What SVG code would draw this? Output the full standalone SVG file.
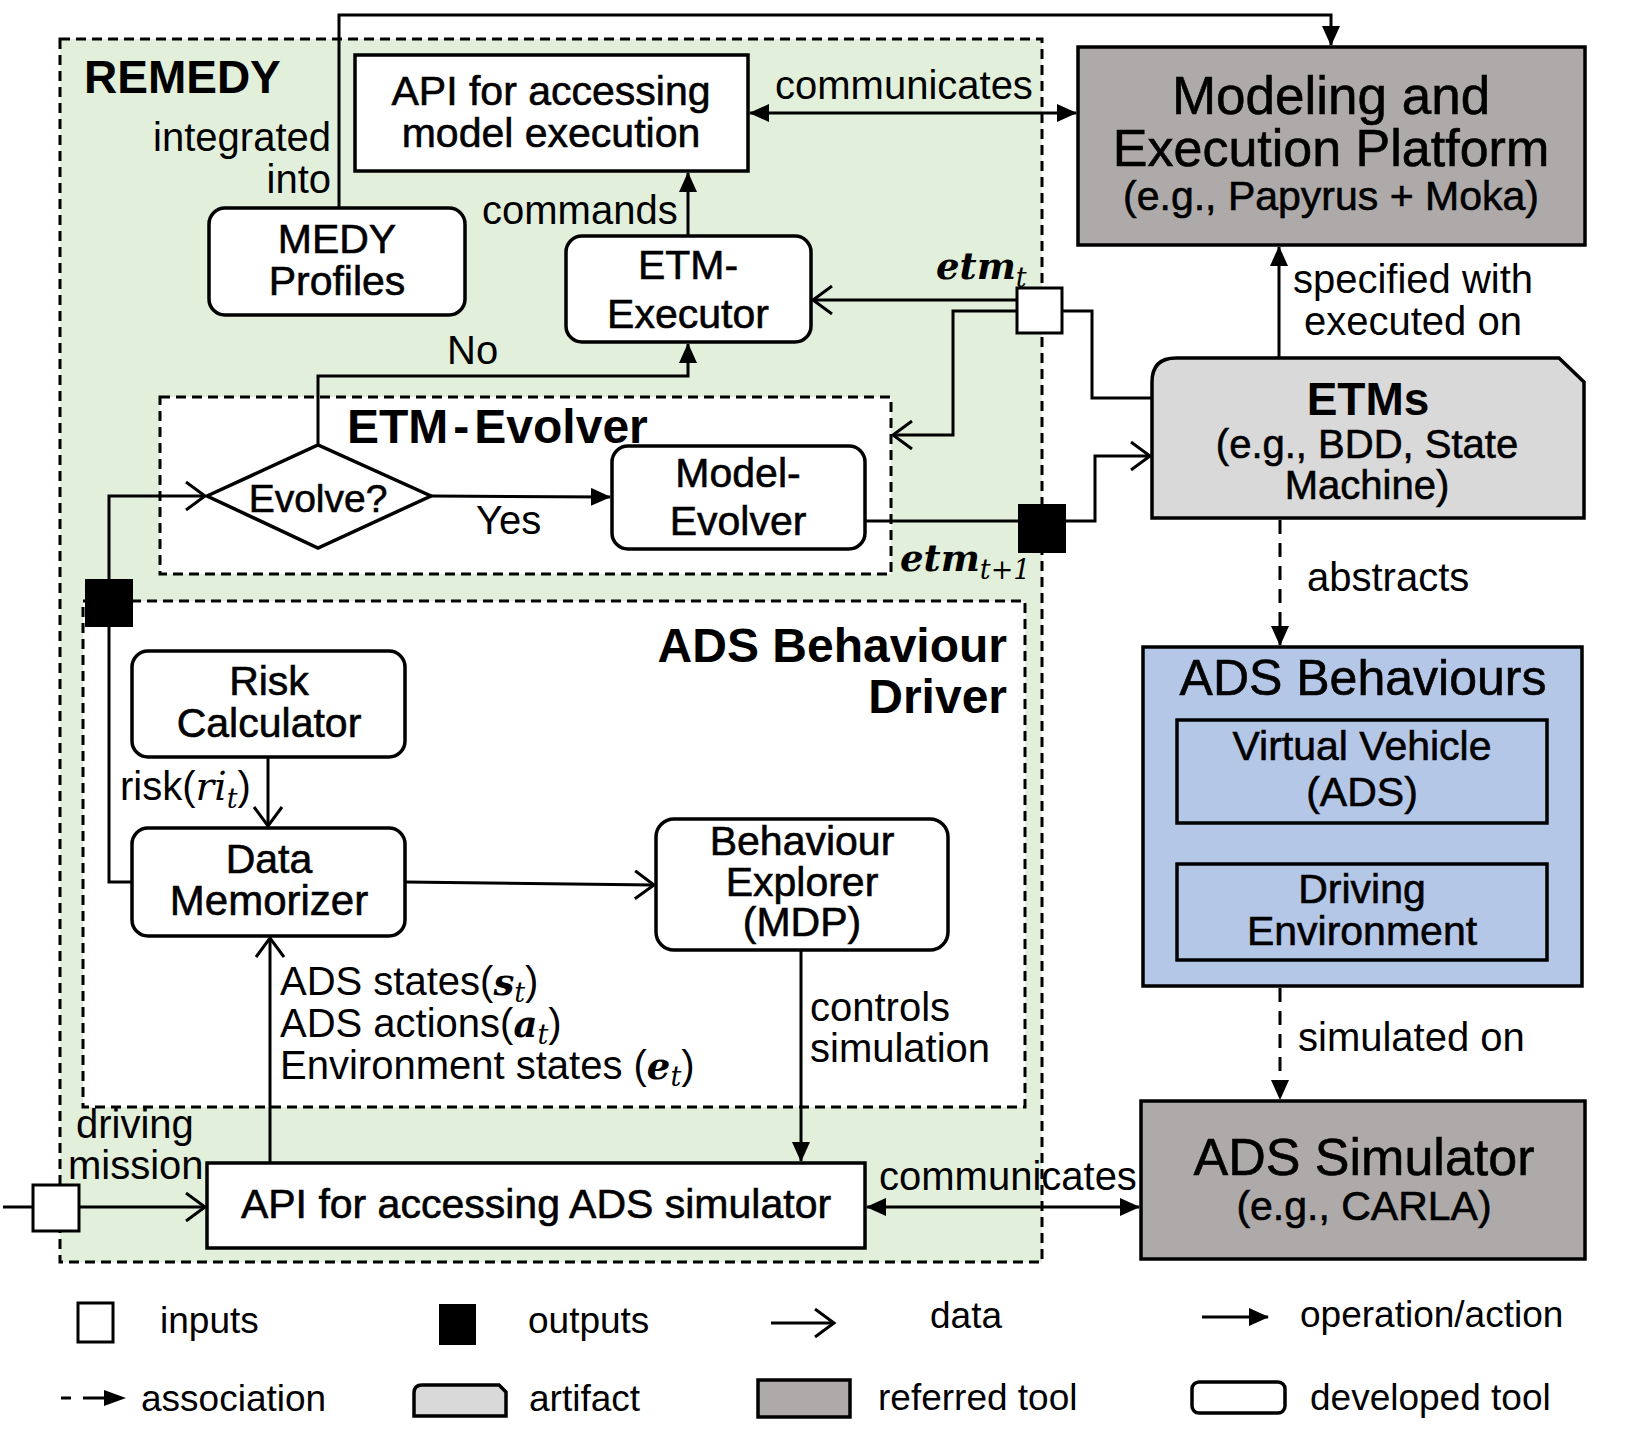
<svg xmlns="http://www.w3.org/2000/svg" width="1629" height="1437" viewBox="0 0 1629 1437">
<defs>
<style>
text{font-family:"Liberation Sans",Arial,sans-serif;font-size:40px;fill:#000}
.c{text-anchor:middle}
.e{text-anchor:end}
.n{font-size:41px;stroke:#000;stroke-width:0.6px}
.b{font-weight:bold;font-size:48px}
.big{font-size:52px;stroke:#000;stroke-width:0.6px}
.lg{font-size:37px}
.m{font-family:"DejaVu Serif",serif;font-style:italic;font-weight:bold;font-size:37px;stroke:none}
.mi{font-family:"DejaVu Serif",serif;font-style:italic;font-size:39px}
.sub{font-family:"DejaVu Serif",serif;font-style:italic;font-weight:normal;font-size:27px;stroke:none}
.box{fill:#fff;stroke:#000;stroke-width:3.5}
.ref{fill:#aeaaaa;stroke:#000;stroke-width:3.5}
.art{fill:#d9d9d9;stroke:#000;stroke-width:3.5}
.blue{fill:#b4c7e7;stroke:#000;stroke-width:3.5}
.dash{fill:#fff;stroke:#000;stroke-width:3;stroke-dasharray:10 6}
.ln{fill:none;stroke:#000;stroke-width:3}
.dl{fill:none;stroke:#000;stroke-width:3;stroke-dasharray:14 9}
.fa{marker-end:url(#fa)}
.oa{marker-end:url(#oa)}
</style>
<marker id="fa" viewBox="0 0 20 18" refX="19" refY="9" markerWidth="20" markerHeight="18" orient="auto-start-reverse" markerUnits="userSpaceOnUse"><path d="M0,0 L20,9 L0,18 z" fill="#000"/></marker>
<marker id="oa" viewBox="0 0 24 30" refX="21" refY="15" markerWidth="24" markerHeight="30" orient="auto" markerUnits="userSpaceOnUse"><path d="M2,1 L21,15 L2,29" fill="none" stroke="#000" stroke-width="3"/></marker>
</defs>
<rect width="1629" height="1437" fill="#fff"/>

<g id="remedy">
<rect x="60" y="39" width="982" height="1223" fill="#e2efda" stroke="#000" stroke-width="3" stroke-dasharray="10 6"/>
<text class="b" x="84" y="93" style="font-size:46px">REMEDY</text>
</g>

<g id="etm-evolver">
<rect class="dash" x="160" y="397" width="731" height="177"/>
<text class="b" x="347" y="443">ETM<tspan dx="5">-</tspan><tspan dx="5">Evolver</tspan></text>
</g>

<g id="ads-behaviour-driver">
<rect class="dash" x="83" y="601" width="942" height="506"/>
<text class="b e" x="1007" y="662">ADS Behaviour</text>
<text class="b e" x="1007" y="713">Driver</text>
</g>

<g id="api-model">
<rect class="box" x="355" y="55" width="393" height="116"/>
<text class="c n" x="551" y="105">API for accessing</text>
<text class="c n" x="551" y="147">model execution</text>
</g>

<g id="medy-profiles">
<rect class="box" x="209" y="208" width="256" height="107" rx="16"/>
<text class="c n" x="337" y="253">MEDY</text>
<text class="c n" x="337" y="295">Profiles</text>
</g>

<g id="etm-executor">
<rect class="box" x="566" y="236" width="245" height="106" rx="16"/>
<text class="c n" x="688" y="279">ETM-</text>
<text class="c n" x="688" y="328">Executor</text>
</g>

<g id="evolve-decision">
<polygon points="207,496 318,445 431,496 318,548" fill="#fff" stroke="#000" stroke-width="3.5"/>
<text class="c n" x="318" y="512" style="font-size:39px">Evolve?</text>
</g>

<g id="model-evolver">
<rect class="box" x="612" y="446" width="253" height="103" rx="16"/>
<text class="c n" x="738" y="487">Model-</text>
<text class="c n" x="738" y="535">Evolver</text>
</g>

<g id="risk-calculator">
<rect class="box" x="132" y="651" width="273" height="106" rx="16"/>
<text class="c n" x="269" y="695">Risk</text>
<text class="c n" x="269" y="737">Calculator</text>
</g>

<g id="data-memorizer">
<rect class="box" x="132" y="828" width="273" height="108" rx="16"/>
<text class="c n" x="269" y="873">Data</text>
<text class="c n" x="269" y="915" style="font-size:42px">Memorizer</text>
</g>

<g id="behaviour-explorer">
<rect class="box" x="656" y="819" width="292" height="131" rx="18"/>
<text class="c n" x="802" y="855">Behaviour</text>
<text class="c n" x="802" y="896">Explorer</text>
<text class="c n" x="802" y="936">(MDP)</text>
</g>

<g id="api-ads">
<rect class="box" x="207" y="1163" width="658" height="85"/>
<text class="c n" x="536" y="1218">API for accessing ADS simulator</text>
</g>

<g id="modeling-platform">
<rect class="ref" x="1078" y="47" width="507" height="198"/>
<text class="c big" x="1331" y="114" style="font-size:53px">Modeling and</text>
<text class="c big" x="1331" y="166">Execution Platform</text>
<text class="c n" x="1331" y="210">(e.g., Papyrus + Moka)</text>
</g>

<g id="etms">
<path class="art" d="M1152,518 L1152,382 Q1152,358 1176,358 L1559,358 L1584,382 L1584,518 Z"/>
<text class="c b" x="1368" y="415" style="font-size:46px">ETMs</text>
<text class="c n" x="1367" y="458" style="font-size:40px">(e.g., BDD, State</text>
<text class="c n" x="1367" y="499" style="font-size:40px">Machine)</text>
</g>

<g id="ads-behaviours">
<rect class="blue" x="1143" y="647" width="439" height="339"/>
<text class="c big" x="1363" y="695" style="font-size:50px">ADS Behaviours</text>
</g>

<g id="virtual-vehicle">
<rect class="blue" x="1177" y="720" width="370" height="103"/>
<text class="c n" x="1362" y="760">Virtual Vehicle</text>
<text class="c n" x="1362" y="806">(ADS)</text>
</g>

<g id="driving-environment">
<rect class="blue" x="1177" y="864" width="370" height="96"/>
<text class="c n" x="1362" y="903">Driving</text>
<text class="c n" x="1362" y="945">Environment</text>
</g>

<g id="ads-simulator">
<rect class="ref" x="1141" y="1101" width="444" height="158"/>
<text class="c big" x="1364" y="1175">ADS Simulator</text>
<text class="c n" x="1364" y="1220">(e.g., CARLA)</text>
</g>

<g id="connectors">
<path class="ln fa" d="M339,208 L339,15 L1331,15 L1331,45"/>
<path class="ln fa" d="M688,236 L688,173"/>
<line class="ln" x1="750" y1="113" x2="1076" y2="113" marker-start="url(#fa)" marker-end="url(#fa)"/>
<path class="ln oa" d="M1017,300 L813,300"/>
<path class="ln oa" d="M1017,311 L953,311 L953,435 L893,435"/>
<path class="ln" d="M1062,311 L1092,311 L1092,398 L1152,398"/>
<path class="ln" d="M865,521 L1018,521"/>
<path class="ln oa" d="M1066,521 L1095,521 L1095,456 L1150,456"/>
<path class="ln fa" d="M1279,358 L1279,247"/>
<path class="dl fa" d="M1280,520 L1280,645"/>
<path class="dl fa" d="M1280,988 L1280,1099"/>
<path class="ln fa" d="M318,445 L318,376 L688,376 L688,344"/>
<path class="ln fa" d="M431,496 L610,497"/>
<path class="ln oa" d="M132,882 L109,882 L109,496 L205,496"/>
<path class="ln oa" d="M268,757 L268,826"/>
<path class="ln oa" d="M405,882 L654,885"/>
<path class="ln oa" d="M270,1163 L270,938"/>
<path class="ln fa" d="M801,950 L801,1161"/>
<path class="ln" d="M3,1207 L33,1207"/>
<path class="ln oa" d="M79,1207 L205,1207"/>
<line class="ln" x1="867" y1="1207" x2="1139" y2="1207" marker-start="url(#fa)" marker-end="url(#fa)"/>
</g>

<g id="ports">
<rect id="port-etm-t" x="1017" y="288" width="45" height="45" fill="#fff" stroke="#000" stroke-width="3"/>
<rect id="port-etm-t1" x="1018" y="504" width="48" height="49" fill="#000"/>
<rect id="port-dm-out" x="85" y="579" width="48" height="48" fill="#000"/>
<rect id="port-mission" x="33" y="1185" width="46" height="46" fill="#fff" stroke="#000" stroke-width="3"/>
</g>

<g id="labels">
<text x="775" y="99">communicates</text>
<text class="e" x="331" y="151">integrated</text>
<text class="e" x="331" y="193">into</text>
<text x="482" y="224">commands</text>
<text class="m" x="936" y="279">etm<tspan class="sub" dy="8">t</tspan></text>
<text class="m" x="900" y="571">etm<tspan class="sub" dy="8">t+1</tspan></text>
<text x="447" y="364">No</text>
<text x="476" y="534">Yes</text>
<text class="c" x="1413" y="293">specified with</text>
<text class="c" x="1413" y="335">executed on</text>
<text x="1307" y="591">abstracts</text>
<text x="1298" y="1051">simulated on</text>
<text x="120" y="800">risk(<tspan class="mi">ri</tspan><tspan class="sub" dy="8">t</tspan><tspan dy="-8">)</tspan></text>
<text x="280" y="995">ADS states(<tspan class="m">s</tspan><tspan class="sub" dy="7">t</tspan><tspan dy="-7">)</tspan></text>
<text x="280" y="1037">ADS actions(<tspan class="m">a</tspan><tspan class="sub" dy="7">t</tspan><tspan dy="-7">)</tspan></text>
<text x="280" y="1079">Environment states (<tspan class="m">e</tspan><tspan class="sub" dy="7">t</tspan><tspan dy="-7">)</tspan></text>
<text x="810" y="1021">controls</text>
<text x="810" y="1062">simulation</text>
<text x="76" y="1138">driving</text>
<text x="68" y="1179">mission</text>
<text x="879" y="1190">communicates</text>
</g>

<g id="legend">
<rect x="78" y="1303" width="35" height="39" fill="#fff" stroke="#000" stroke-width="3"/>
<text class="lg" x="160" y="1333">inputs</text>
<rect x="439" y="1304" width="37" height="41" fill="#000"/>
<text class="lg" x="528" y="1333">outputs</text>
<path class="ln oa" d="M771,1323 L834,1323"/>
<text class="lg" x="930" y="1328">data</text>
<path class="ln fa" d="M1202,1317 L1268,1317"/>
<text class="lg" x="1300" y="1327">operation/action</text>
<path d="M61,1398 L71,1398 M83,1398 L106,1398" fill="none" stroke="#000" stroke-width="3"/>
<path d="M104,1390 L126,1398 L104,1406 Z" fill="#000"/>
<text class="lg" x="141" y="1411">association</text>
<path class="art" d="M414,1416 L414,1393 Q414,1385 422,1385 L499,1385 L506,1392 L506,1416 Z"/>
<text class="lg" x="529" y="1411">artifact</text>
<rect class="ref" x="758" y="1380" width="92" height="37"/>
<text class="lg" x="878" y="1410">referred tool</text>
<rect class="box" x="1192" y="1382" width="93" height="31" rx="7"/>
<text class="lg" x="1310" y="1410">developed tool</text>
</g>
</svg>
